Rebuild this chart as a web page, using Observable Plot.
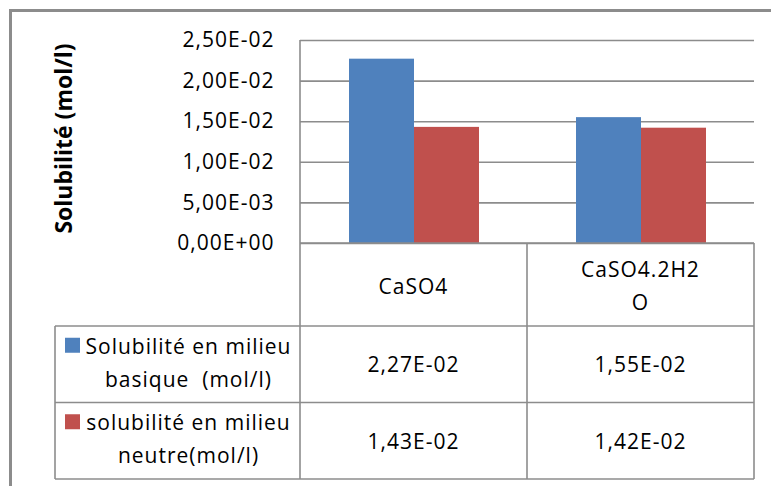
<!DOCTYPE html>
<html>
<head>
<meta charset="utf-8">
<script src="https://cdn.jsdelivr.net/npm/d3@7"></script>
<script src="https://cdn.jsdelivr.net/npm/@observablehq/plot@0.6"></script>
<style>
  html, body { margin: 0; padding: 0; background: #fff; }
  #chart svg { display: block; }
</style>
</head>
<body>
<div id="chart"></div>
<script>
// ---- data ----
const categories = ["CaSO4", "CaSO4.2H2O"];
const categoryLines = [["CaSO4"], ["CaSO4.2H2", "O"]];
const series = ["Solubilité en milieu basique  (mol/l)", "solubilité en milieu neutre(mol/l)"];
const seriesLines = [["Solubilité en milieu", "basique  (mol/l)"], ["solubilité en milieu", "neutre(mol/l)"]];
const basique = [2.27e-2, 1.55e-2];
const neutre = [1.43e-2, 1.42e-2];
const valueLabels = [["2,27E-02", "1,55E-02"], ["1,43E-02", "1,42E-02"]];
const yTicks = [0, 0.005, 0.01, 0.015, 0.02, 0.025];
const yTickLabels = ["0,00E+00", "5,00E-03", "1,00E-02", "1,50E-02", "2,00E-02", "2,50E-02"];
const yTitle = "Solubilité (mol/l)";
const colors = ["#4F81BD", "#C0504D"];

(function () {
const seriesValues = [basique, neutre];
const data = [];
categories.forEach((c, i) => series.forEach((s, j) => data.push({category: c, series: s, value: seriesValues[j][i]})));

const FONT = "Open Sans";
const FS = 21;
const LS = "1px";
const GRID = "#8c8c8c";

const chart = Plot.plot({
  width: 771,
  height: 486,
  marginLeft: 300,
  marginRight: 17,
  marginTop: 40,
  marginBottom: 243,
  style: {fontFamily: FONT, background: "white", color: "#000", overflow: "visible"},
  fx: {domain: categories, paddingInner: 0, paddingOuter: 0, axis: null, label: null},
  x: {domain: series, paddingInner: 0, paddingOuter: 0.746, axis: null, label: null},
  y: {domain: [0, 0.025], axis: null},
  color: {domain: series, range: colors},
  marks: [
    Plot.ruleY(yTicks, {y: d => d, stroke: GRID, strokeWidth: 1.6}),
    Plot.barY(data, {fx: "category", x: "series", y: "value", fill: "series"}),
    Plot.axisY({
      ticks: yTicks,
      tickFormat: d => yTickLabels[yTicks.indexOf(d)],
      tickSize: 0,
      tickPadding: 26,
      fontSize: FS,
      label: null
    })
  ]
});

document.getElementById("chart").appendChild(chart);
d3.select(chart).selectAll("[aria-label='y-axis tick label'] text").style("letter-spacing", LS);

// ---- data table, title, frame drawn into the same SVG from the scales ----
const svg = d3.select(chart);
const fx = chart.scale("fx");
const y = chart.scale("y");
const bw = fx.bandwidth;
const xLeft = fx.apply(categories[0]);
const xRight = fx.apply(categories[categories.length - 1]) + bw;
const yTop = y.apply(yTicks[yTicks.length - 1]);
const y0 = y.apply(0);
const headerH = 83;
const rowH = 76.5;
const legendLeft = 55;
const tableBottom = y0 + headerH + rowH * series.length;

const g = svg.append("g").attr("stroke", GRID).attr("stroke-width", 1.6).attr("fill", "none");
g.append("line").attr("x1", xLeft).attr("x2", xLeft).attr("y1", yTop).attr("y2", tableBottom);
categories.forEach(c => {
  const xr = fx.apply(c) + bw;
  g.append("line").attr("x1", xr).attr("x2", xr).attr("y1", y0).attr("y2", tableBottom);
});
g.append("line").attr("x1", xLeft).attr("x2", xRight).attr("y1", y0).attr("y2", y0);
for (let r = 0; r <= series.length; r++) {
  const yy = y0 + headerH + rowH * r;
  g.append("line").attr("x1", legendLeft).attr("x2", xRight).attr("y1", yy).attr("y2", yy);
}
g.append("line").attr("x1", legendLeft).attr("x2", legendLeft).attr("y1", y0 + headerH).attr("y2", tableBottom);

const t = svg.append("g").attr("font-family", FONT).attr("font-size", FS).attr("fill", "#000")
  .style("letter-spacing", LS);
const lineH = 33;
categories.forEach((c, i) => {
  const cx = fx.apply(c) + bw / 2;
  const lines = categoryLines[i];
  const cy = y0 + headerH / 2 + 1;
  lines.forEach((ln, k) => {
    t.append("text").attr("x", cx).attr("y", cy + (k - (lines.length - 1) / 2) * lineH)
      .attr("text-anchor", "middle").attr("dominant-baseline", "central").text(ln);
  });
});
series.forEach((s, j) => {
  const cy = y0 + headerH + rowH * j + rowH / 2;
  const textX = 188.5;
  const ly = cy - 2;
  seriesLines[j].forEach((ln, k) => {
    t.append("text").attr("x", textX).attr("y", ly + (k - 0.5) * lineH)
      .attr("text-anchor", "middle").attr("dominant-baseline", "central")
      .style("white-space", "pre").text(ln);
  });
  svg.append("rect").attr("x", 65).attr("y", ly - 0.5 * lineH - 8).attr("width", 15).attr("height", 15)
    .attr("fill", colors[j]);
  categories.forEach((c, i) => {
    t.append("text").attr("x", fx.apply(c) + bw / 2).attr("y", cy)
      .attr("text-anchor", "middle").attr("dominant-baseline", "central").text(valueLabels[j][i]);
  });
});

svg.append("text").attr("transform", "translate(63,138.5) rotate(-90)")
  .attr("text-anchor", "middle").attr("dominant-baseline", "central")
  .attr("font-family", FONT).attr("font-size", 23).attr("font-weight", "bold").text(yTitle);

svg.append("path").attr("d", "M10.5,486 L10.5,10.5 L771,10.5")
  .attr("fill", "none").attr("stroke", GRID).attr("stroke-width", 3);
})();
</script>
</body>
</html>
